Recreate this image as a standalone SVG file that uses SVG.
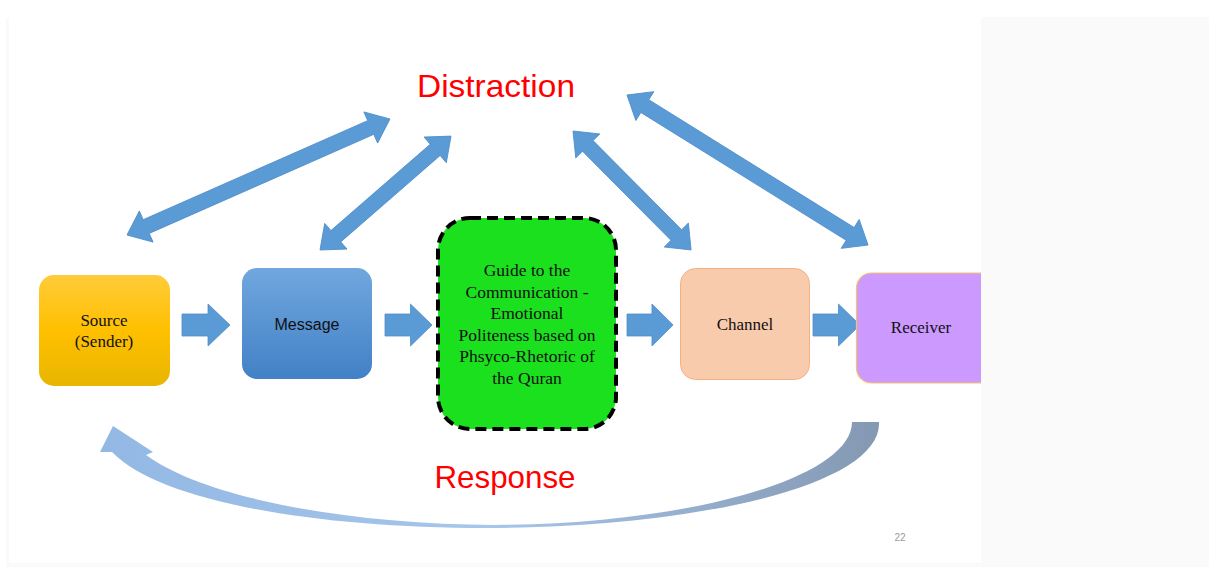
<svg xmlns="http://www.w3.org/2000/svg" width="1209" height="567" viewBox="0 0 1209 567">
  <defs>
    <linearGradient id="gSource" x1="0" y1="0" x2="0" y2="1">
      <stop offset="0" stop-color="#FFCB3A"/>
      <stop offset="0.5" stop-color="#FFC000"/>
      <stop offset="1" stop-color="#E8B500"/>
    </linearGradient>
    <linearGradient id="gMessage" x1="0" y1="0" x2="0" y2="1">
      <stop offset="0" stop-color="#70A7DE"/>
      <stop offset="1" stop-color="#4281C6"/>
    </linearGradient>
    <linearGradient id="gResp" x1="0" y1="0" x2="1" y2="0">
      <stop offset="0" stop-color="#92B8E4"/>
      <stop offset="0.5" stop-color="#A7C6EA"/>
      <stop offset="1" stop-color="#8498B2"/>
    </linearGradient>
    <polygon id="rArrow" points="0,-11 26,-11 26,-21 48,0 26,21 26,11 0,11"/>
  </defs>
  <style>
    .serif { fill: #111; text-anchor: middle; }
    .sans { text-anchor: middle; }
    .red { fill: #FF0000; font-size: 32px; }
    .blk { fill: #5B9BD5; stroke: #4F8BC9; stroke-width: 0.8; }
  </style>

  <rect x="0" y="0" width="1209" height="567" fill="#FFFFFF"/>
  <rect x="981" y="17" width="228" height="550" fill="#FAFAFA"/>
  <rect x="6" y="18" width="3" height="545" fill="#FAFAFA"/>
  <rect x="6" y="563" width="975" height="4" fill="#FAFAFA"/>

  <g id="labels" font-family="'Liberation Sans', Arial, sans-serif">
    <text class="sans red" x="496" y="97" textLength="158" lengthAdjust="spacingAndGlyphs">Distraction</text>
    <text class="sans red" x="505" y="488" textLength="141" lengthAdjust="spacingAndGlyphs">Response</text>
    <text class="sans" x="900" y="541" font-size="10" fill="#9A9A9A">22</text>
  </g>

  <g id="connectors">
    <use href="#rArrow" class="blk" transform="translate(182,325)"/>
    <use href="#rArrow" class="blk" transform="translate(385,325) scale(0.98,1)"/>
    <use href="#rArrow" class="blk" transform="translate(627,325) scale(0.96,1)"/>
    <use href="#rArrow" class="blk" transform="translate(813,325) scale(0.98,1)"/>

    <polygon class="blk" transform="translate(127,235) rotate(-23.8)" points="0,0 21,-17 21,-7.5 266.4,-7.5 266.4,-17 287.4,0 266.4,17 266.4,7.5 21,7.5 21,17"/>
    <polygon class="blk" transform="translate(320,250) rotate(-41)" points="0,0 21,-17 21,-7.5 152.6,-7.5 152.6,-17 173.6,0 152.6,17 152.6,7.5 21,7.5 21,17"/>
    <polygon class="blk" transform="translate(573,131) rotate(45.2)" points="0,0 21,-17 21,-7.5 146.6,-7.5 146.6,-17 167.6,0 146.6,17 146.6,7.5 21,7.5 21,17"/>
    <polygon class="blk" transform="translate(627,95) rotate(31.9)" points="0,0 21,-17 21,-7.5 262.9,-7.5 262.9,-17 283.9,0 262.9,17 262.9,7.5 21,7.5 21,17"/>

    <path fill="url(#gResp)" d="M 879,422 C 882,485 700,526 495,528 C 320,529 160,502 112,452 L 100,452 L 113,426 L 153,452 L 146,455 C 205,498 345,524 495,525 C 690,524 852,478 852,422 Z"/>
  </g>

  <g id="node-source">
    <rect x="39" y="275" width="131" height="111" rx="15" fill="url(#gSource)"/>
    <text class="serif" font-family="'Liberation Serif', 'Times New Roman', serif" x="104" y="326" font-size="17">Source</text>
    <text class="serif" font-family="'Liberation Serif', 'Times New Roman', serif" x="104" y="347" font-size="17">(Sender)</text>
  </g>

  <g id="node-message">
    <rect x="242" y="268" width="130" height="111" rx="15" fill="url(#gMessage)"/>
    <text class="sans" font-family="'Liberation Sans', Arial, sans-serif" x="307" y="330" font-size="16" fill="#111">Message</text>
  </g>

  <g id="node-guide" font-family="'Liberation Serif', 'Times New Roman', serif">
    <rect x="438" y="218" width="178" height="211" rx="32" fill="#1AE01E" stroke="#000" stroke-width="4" stroke-dasharray="11 6"/>
    <text class="serif" x="527" y="276" font-size="17.5">Guide to the</text>
    <text class="serif" x="527" y="297.5" font-size="17.5">Communication -</text>
    <text class="serif" x="527" y="319" font-size="17.5">Emotional</text>
    <text class="serif" x="527" y="340.5" font-size="17.5">Politeness based on</text>
    <text class="serif" x="527" y="362" font-size="17.5">Phsyco-Rhetoric of</text>
    <text class="serif" x="527" y="383.5" font-size="17.5">the Quran</text>
  </g>

  <g id="node-channel">
    <rect x="680.5" y="268.5" width="129" height="111" rx="15" fill="#F8CBAD" stroke="#F4B183" stroke-width="1"/>
    <text class="serif" font-family="'Liberation Serif', 'Times New Roman', serif" x="745" y="330" font-size="17">Channel</text>
  </g>

  <g id="node-receiver">
    <svg x="850" y="260" width="131" height="130" viewBox="850 260 131 130" overflow="hidden">
      <rect x="856.5" y="273" width="140" height="110" rx="15" fill="#CC99FF" stroke="#F6C46A" stroke-width="1.2"/>
    </svg>
    <text class="serif" font-family="'Liberation Serif', 'Times New Roman', serif" x="921" y="333" font-size="17">Receiver</text>
  </g>
</svg>
